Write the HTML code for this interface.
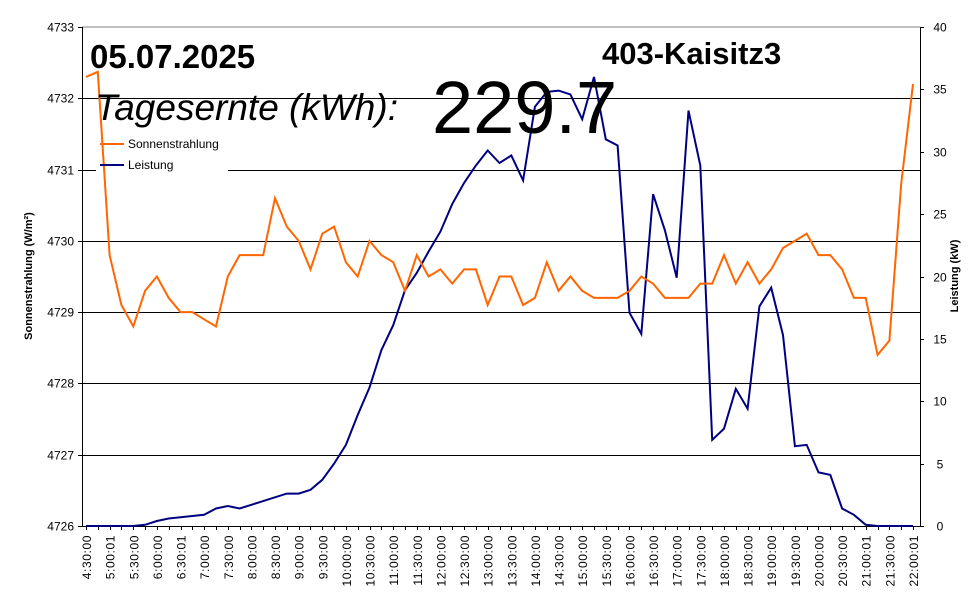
<!DOCTYPE html>
<html><head><meta charset="utf-8"><style>
html,body{margin:0;padding:0;background:#fff}
svg{display:block;font-family:"Liberation Sans",Arial,sans-serif}
</style></head><body>
<svg id="chart" width="970" height="604" viewBox="0 0 970 604">
<rect x="0" y="0" width="970" height="604" fill="#fff"/>
<g id="grid"></g>
<rect x="96" y="132" width="132" height="44" fill="#fff"/>
<g id="axes"></g>
<g id="series"></g>
<text x="90" y="68" font-size="33" font-weight="bold">05.07.2025</text>
<text x="602" y="64" font-size="31" font-weight="bold">403-Kaisitz3</text>
<text x="95" y="120" font-size="37" font-style="italic">Tagesernte (kWh):</text>
<text x="432" y="133" font-size="74">229.7</text>
<g>
<line x1="100" y1="144" x2="124" y2="144" stroke="#ff6600" stroke-width="2"/>
<text x="128" y="148" font-size="12">Sonnenstrahlung</text>
<line x1="100" y1="165" x2="124" y2="165" stroke="#000080" stroke-width="2"/>
<text x="128" y="169" font-size="12">Leistung</text>
</g>
<text transform="translate(32,276) rotate(-90)" text-anchor="middle" font-size="11" font-weight="bold">Sonnenstrahlung (W/m²)</text>
<text transform="translate(958,276) rotate(-90)" text-anchor="middle" font-size="11" font-weight="bold">Leistung (kW)</text>
</svg>
<script>
const timeLabels=["4:30:00","5:00:01","5:30:00","6:00:00","6:30:01","7:00:00","7:30:00","8:00:00","8:30:00","9:00:00","9:30:00","10:00:00","10:30:00","11:00:00","11:30:00","12:00:00","12:30:00","13:00:00","13:30:00","14:00:00","14:30:00","15:00:00","15:30:00","16:00:00","16:30:00","17:00:00","17:30:00","18:00:00","18:30:00","19:00:00","19:30:00","20:00:00","20:30:00","21:00:01","21:30:00","22:00:01"];
const sonnenstrahlung=[4732.3,4732.37,4729.8,4729.1,4728.8,4729.3,4729.5,4729.2,4729.0,4729.0,4728.9,4728.8,4729.5,4729.8,4729.8,4729.8,4730.6,4730.2,4730.0,4729.6,4730.1,4730.2,4729.7,4729.5,4730.0,4729.8,4729.7,4729.3,4729.8,4729.5,4729.6,4729.4,4729.6,4729.6,4729.1,4729.5,4729.5,4729.1,4729.2,4729.7,4729.3,4729.5,4729.3,4729.2,4729.2,4729.2,4729.3,4729.5,4729.4,4729.2,4729.2,4729.2,4729.4,4729.4,4729.8,4729.4,4729.7,4729.4,4729.6,4729.9,4730.0,4730.1,4729.8,4729.8,4729.6,4729.2,4729.2,4728.4,4728.6,4730.8,4732.2];
const leistung=[0,0,0,0,0,0.1,0.4,0.6,0.7,0.8,0.9,1.4,1.6,1.4,1.7,2.0,2.3,2.6,2.6,2.9,3.7,5.0,6.5,8.9,11.1,14.1,16.1,18.9,20.3,22.0,23.6,25.8,27.5,28.9,30.1,29.1,29.7,27.7,33.6,34.8,34.9,34.6,32.6,36.0,31.0,30.5,17.1,15.4,26.6,23.7,19.9,33.3,28.9,6.9,7.8,11.0,9.4,17.6,19.1,15.3,6.4,6.5,4.3,4.1,1.4,0.9,0.1,0,0,0,0];
const leftTicks=[4726,4727,4728,4729,4730,4731,4732,4733];
const rightTicks=[0,5,10,15,20,25,30,35,40];

const NS="http://www.w3.org/2000/svg";
const L=82,R=920,T=27,B=526,X0=86,X1=913;
const n=sonnenstrahlung.length;
const xS=i=>X0+(X1-X0)*i/(n-1);
const yL=v=>B-(v-4726)/(4733-4726)*(B-T);
const yR=v=>B-v/40*(B-T);
function mk(tag,attrs,parent){const e=document.createElementNS(NS,tag);for(const k in attrs)e.setAttribute(k,attrs[k]);parent.appendChild(e);return e;}
const grid=document.getElementById('grid'),axes=document.getElementById('axes'),series=document.getElementById('series');
let e=mk('line',{x1:L,y1:T,x2:R,y2:T,stroke:'#808080','stroke-width':1},grid);


leftTicks.forEach(v=>{
  const y=Math.round(yL(v))+0.5;
  if(v>4726&&v<4733){
    const g=mk('line',{x1:L,y1:y,x2:R,y2:y,stroke:'#000','stroke-width':1},grid);
    
    
  }
  const tk=mk('line',{x1:L-4,y1:y,x2:L,y2:y,stroke:'#000'},axes);
  
  
  const t=mk('text',{x:L-8,y:y+4,'text-anchor':'end','font-size':12},axes);
  t.textContent=v;
  
  
});
rightTicks.forEach(v=>{
  const y=Math.round(yR(v))+0.5;
  const tk=mk('line',{x1:R,y1:y,x2:R+4,y2:y,stroke:'#000'},axes);
  
  
  const t=mk('text',{x:R+20,y:y+4,'text-anchor':'middle','font-size':12},axes);
  t.textContent=v;
  
  
});
e=mk('line',{x1:L+0.5,y1:T,x2:L+0.5,y2:B,stroke:'#000'},axes);


e=mk('line',{x1:R+0.5,y1:T,x2:R+0.5,y2:B,stroke:'#000'},axes);


e=mk('line',{x1:L,y1:B+0.5,x2:R,y2:B+0.5,stroke:'#000'},axes);


for(let i=0;i<n;i++){
  const x=Math.round(xS(i))+0.5;
  const tk=mk('line',{x1:x,y1:B,x2:x,y2:B+4,stroke:'#000'},axes);
  
  
}
timeLabels.forEach((lab,j)=>{
  const x=xS(j*2)+5;
  const t=mk('text',{transform:`translate(${x},535) rotate(-90)`,'text-anchor':'end','font-size':12,'letter-spacing':'0.6'},axes);
  t.textContent=lab;
  
  
});
const pl=(arr,f)=>arr.map((v,i)=>xS(i).toFixed(1)+','+f(v).toFixed(1)).join(' ');
e=mk('polyline',{points:pl(leistung,yR),fill:'none',stroke:'#000080','stroke-width':2},series);


e=mk('polyline',{points:pl(sonnenstrahlung,yL),fill:'none',stroke:'#ff6600','stroke-width':2},series);


</script>
</body></html>
